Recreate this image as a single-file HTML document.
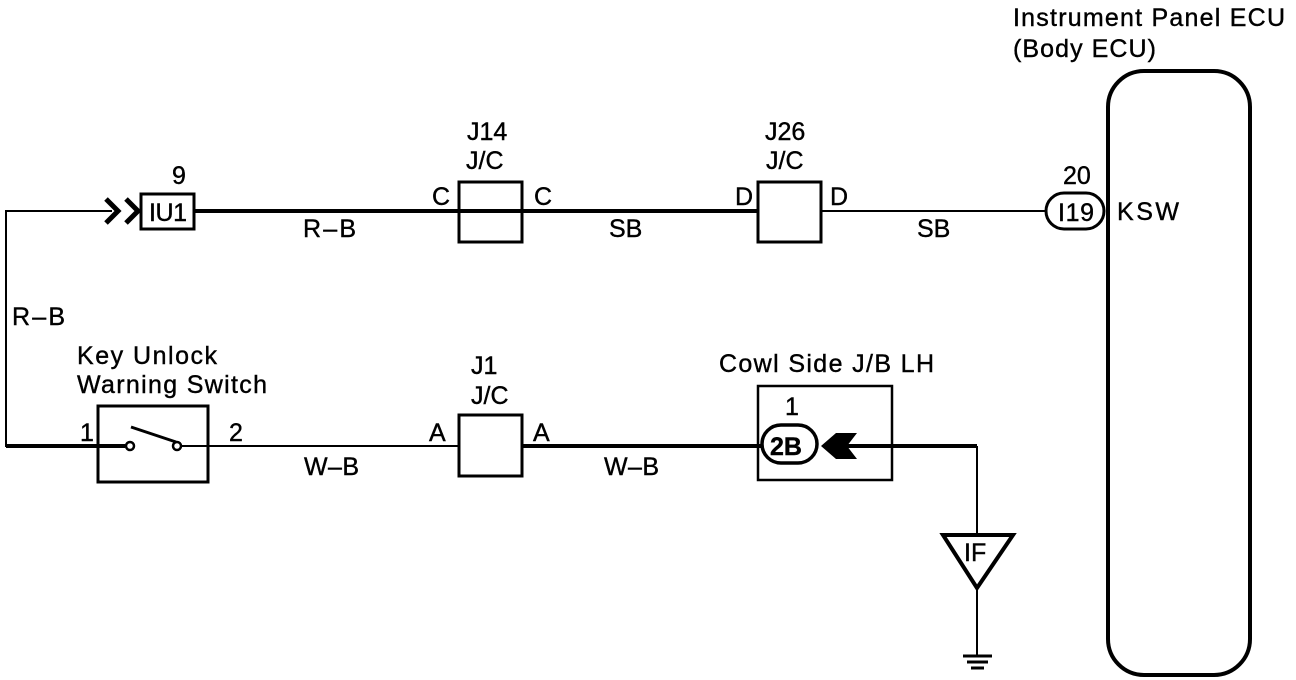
<!DOCTYPE html>
<html><head><style>
html,body{margin:0;padding:0;background:#fff;}
svg{display:block;}
text{font-family:"Liberation Sans",Arial,sans-serif;font-size:25px;fill:#000;stroke:#000;stroke-width:0.4;}
</style></head><body>
<svg width="1296" height="680" viewBox="0 0 1296 680" xmlns="http://www.w3.org/2000/svg">
<g stroke="#000" fill="none">
<line x1="6" y1="211" x2="112" y2="211" stroke-width="2"/>
<polyline points="106,199 118,211 106,223" stroke-width="5"/>
<polyline points="126,199 138,211 126,223" stroke-width="5"/>
<rect x="141" y="194" width="53" height="35" stroke-width="3"/>
<line x1="194" y1="211" x2="757" y2="211" stroke-width="4"/>
<line x1="821" y1="211" x2="1045" y2="211" stroke-width="2"/>
<rect x="459" y="182" width="63" height="60" stroke-width="3"/>
<rect x="758" y="182" width="63" height="60" stroke-width="3"/>
<rect x="1046" y="193" width="58" height="36" rx="18" stroke-width="3"/>
<rect x="1108" y="71" width="142" height="604" rx="36" stroke-width="4"/>
<line x1="6" y1="210" x2="6" y2="447" stroke-width="2"/>
<line x1="6" y1="446" x2="125" y2="446" stroke-width="4"/>
<rect x="98" y="406" width="110" height="76" stroke-width="3"/>
<circle cx="130" cy="446" r="4" stroke-width="2.5" fill="#fff"/>
<circle cx="177" cy="446" r="4" stroke-width="2.5" fill="#fff"/>
<line x1="131" y1="427" x2="176" y2="442" stroke-width="3"/>
<line x1="181" y1="446" x2="459" y2="446" stroke-width="2"/>
<rect x="459" y="415" width="63" height="61" stroke-width="3"/>
<line x1="522" y1="446" x2="761" y2="446" stroke-width="4"/>
<rect x="758" y="386" width="134" height="94" stroke-width="2.5"/>
<rect x="762" y="425" width="55" height="38" rx="19" stroke-width="3.5"/>
<line x1="835" y1="446" x2="977" y2="446" stroke-width="4"/>
<line x1="977" y1="446" x2="977" y2="535" stroke-width="2"/>
<polygon points="943,535 1013,535 977,588" stroke-width="4"/>
<line x1="977" y1="588" x2="977" y2="655" stroke-width="2"/>
<line x1="963" y1="656" x2="992" y2="656" stroke-width="3"/>
<line x1="967" y1="662" x2="988" y2="662" stroke-width="3"/>
<line x1="971" y1="668" x2="984" y2="668" stroke-width="3"/>
</g>
<polygon points="821,446 836,433 857,433 847,446 857,459 836,459" fill="#000"/>
<text x="149" y="221" font-size="23" textLength="38">IU1</text>
<text x="1058" y="221" font-size="23" textLength="36">I19</text>
<text x="770" y="455" font-weight="bold" font-size="23">2B</text>
<text x="964" y="561" font-size="23">IF</text>
<text x="172" y="184">9</text>
<text x="303" y="237" textLength="53">R–B</text>
<text x="432" y="205">C</text>
<text x="534" y="205">C</text>
<text x="467" y="140">J14</text>
<text x="466" y="169">J/C</text>
<text x="609" y="237">SB</text>
<text x="765" y="140">J26</text>
<text x="766" y="169">J/C</text>
<text x="735" y="205">D</text>
<text x="830" y="205">D</text>
<text x="917" y="237">SB</text>
<text x="1063" y="184">20</text>
<text x="1117" y="220" textLength="62">KSW</text>
<text x="1013" y="26" textLength="272">Instrument Panel ECU</text>
<text x="1013" y="57" textLength="143">(Body ECU)</text>
<text x="12" y="325" textLength="53">R–B</text>
<text x="77" y="364" textLength="140">Key Unlock</text>
<text x="77" y="393" textLength="190">Warning Switch</text>
<text x="80" y="441">1</text>
<text x="229" y="441">2</text>
<text x="471" y="374">J1</text>
<text x="471" y="404">J/C</text>
<text x="429" y="441">A</text>
<text x="533" y="441">A</text>
<text x="304" y="475" textLength="55">W–B</text>
<text x="604" y="475" textLength="55">W–B</text>
<text x="719" y="372" textLength="215">Cowl Side J/B LH</text>
<text x="785" y="415">1</text>
</svg>
</body></html>
